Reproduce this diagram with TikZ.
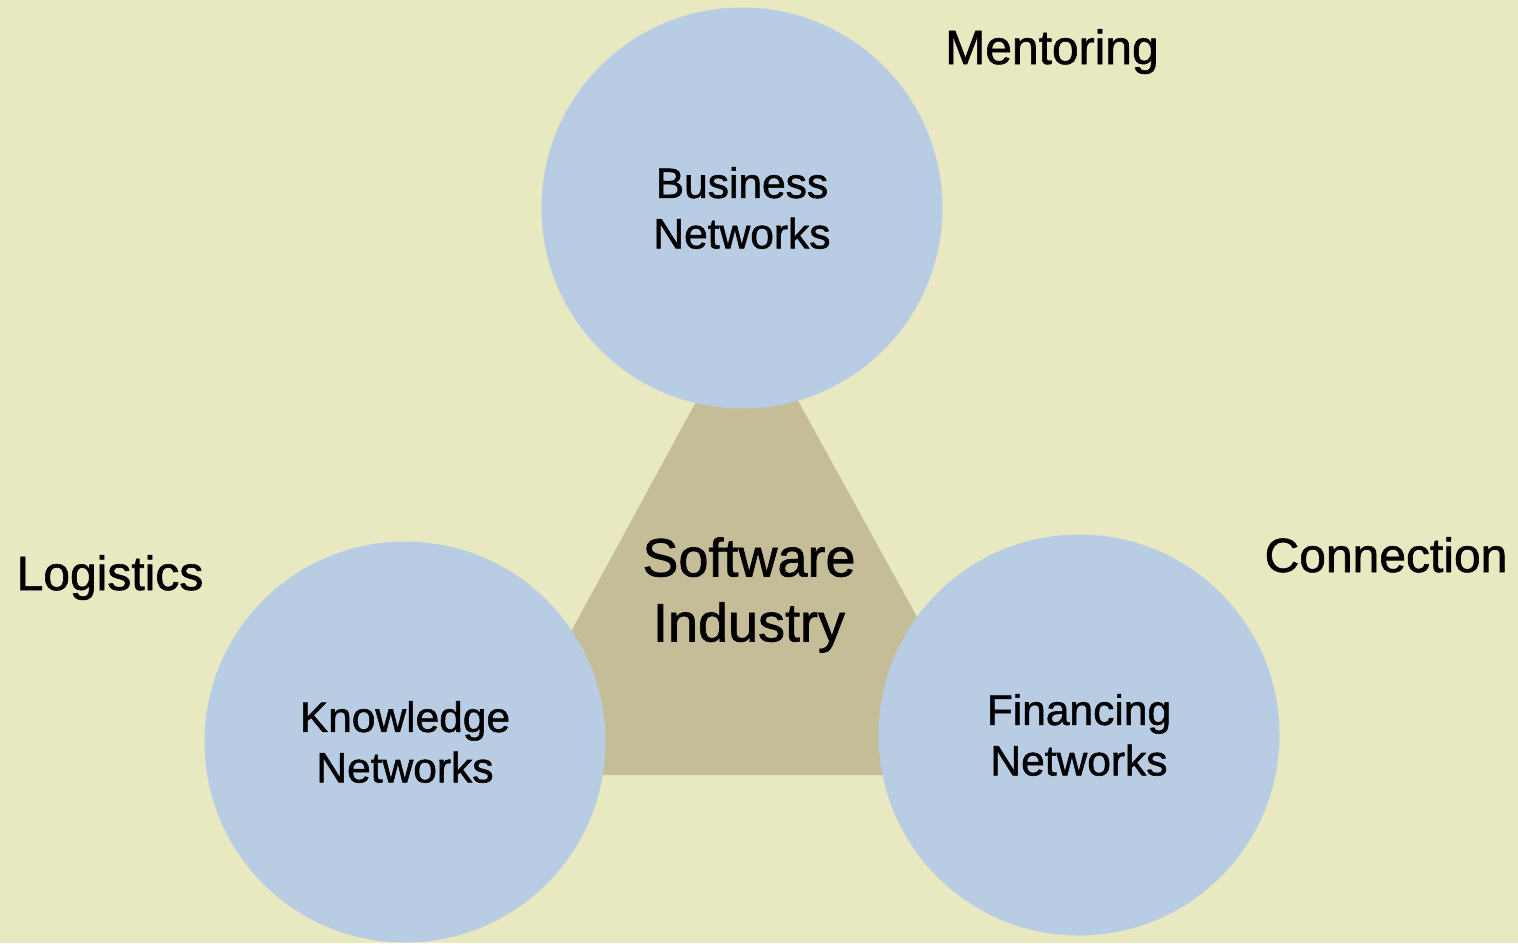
\documentclass[tikz,border=0pt]{standalone}
\usepackage{fontspec}
\setmainfont[FakeBold=1.2]{Liberation Sans}
\definecolor{bgcol}{HTML}{E9E9C1}
\definecolor{circcol}{HTML}{B8CCE4}
\definecolor{tricol}{HTML}{C4BD97}
\begin{document}
\begin{tikzpicture}[x=1pt,y=-1pt,
  netcircle/.style={circle,fill=circcol,minimum size=401pt,inner sep=0pt,align=center,
    font=\fontsize{42.5}{50.5}\selectfont},
  sidelabel/.style={font=\fontsize{48}{56}\selectfont,inner sep=0pt,anchor=base},
  centerlabel/.style={font=\fontsize{54}{65}\selectfont,inner sep=0pt,align=center}]
\fill[bgcol] (0,0) rectangle (1518,943);
\useasboundingbox (0,0) rectangle (1518,943);
\coordinate (tA) at (747,308);
\coordinate (tB) at (493,775);
\coordinate (tC) at (1004,775);
\fill[tricol] (tA) -- (tB) -- (tC) -- cycle;
\node[centerlabel] (sw) at (749,595) {Software\\Industry};
\node[netcircle] (bus) at (742,208) {Business\\Networks};
\node[netcircle] (know) at (405,742) {Knowledge\\Networks};
\node[netcircle] (fin) at (1079,735) {Financing\\Networks};
\node[sidelabel] (ment) at (1052,64) {Mentoring};
\node[sidelabel] (log) at (110,590) {Logistics};
\node[sidelabel] (conn) at (1386,572) {Connection};
\end{tikzpicture}
\end{document}
